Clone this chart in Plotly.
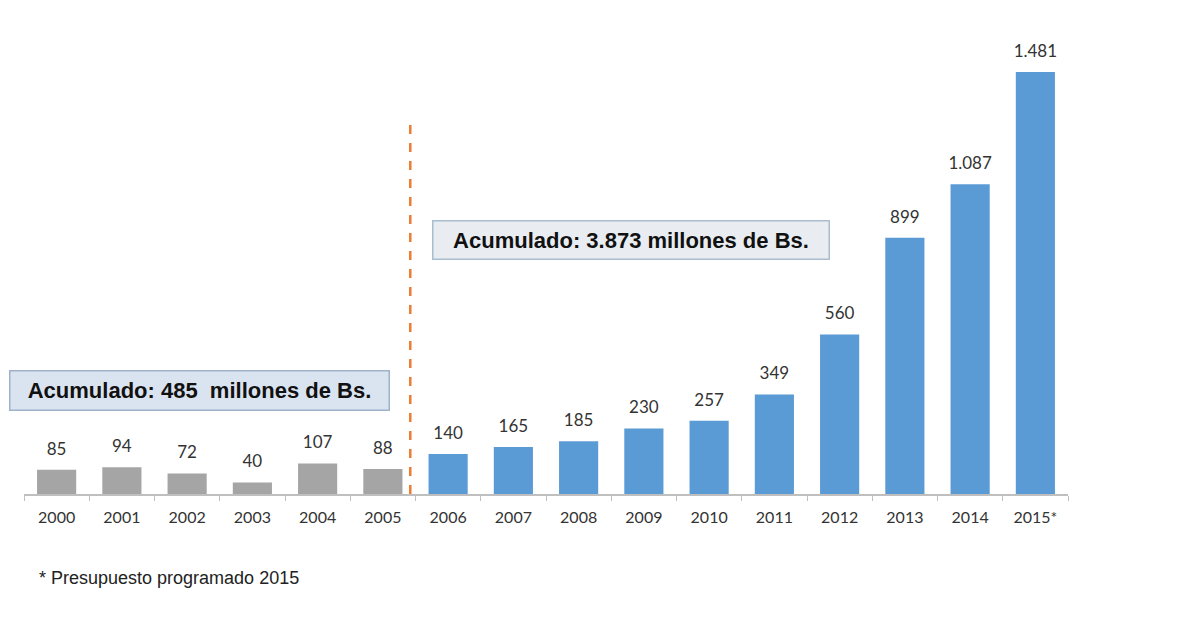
import plotly.graph_objects as go

years = ["2000", "2001", "2002", "2003", "2004", "2005", "2006", "2007",
         "2008", "2009", "2010", "2011", "2012", "2013", "2014", "2015*"]
values = [85, 94, 72, 40, 107, 88, 140, 165, 185, 230, 257, 349, 560, 899, 1087, 1481]
colors = ["#a5a5a5"] * 6 + ["#5b9bd5"] * 10
labels = [f"{v:,}".replace(",", ".") for v in values]

note_left = "Acumulado: 485  millones de Bs."
note_right = "Acumulado: 3.873 millones de Bs."
footnote = "* Presupuesto programado 2015"

# page offset of the plot within the browser window
OFF = 8
L, T, PW, PH = 24, 38, 1044, 456

fig = go.Figure()
fig.add_trace(go.Bar(
    x=years, y=values, marker=dict(color=colors, line=dict(width=0)),
    width=0.6, hoverinfo="x+y",
))
fig.add_trace(go.Scatter(
    x=years, y=values, mode="markers+text", text=labels, textposition="top center",
    marker=dict(size=16, opacity=0), cliponaxis=False, hoverinfo="skip",
    textfont=dict(family="Lato, Open Sans, sans-serif", size=17, color="#333333"),
))

def px(x):
    return (x - L) / PW

def py(y):
    return (T + PH - y) / PH

fig.update_layout(
    width=1199, height=624,
    margin=dict(l=L - OFF, r=1199 - L - PW + OFF, t=T - OFF, b=624 - T - PH + OFF),
    paper_bgcolor="white", plot_bgcolor="white",
    showlegend=False,
    xaxis=dict(type="category", range=[-0.5, len(years) - 0.5],
               showline=True, linecolor="#bfbfbf", linewidth=1.5,
               ticks="outside", tickson="boundaries", ticklen=5, tickcolor="#bfbfbf",
               showgrid=False, ticklabelstandoff=8,
               tickfont=dict(family="Lato, Open Sans, sans-serif", size=16, color="#333333")),
    yaxis=dict(range=[0, 1600], visible=False, showgrid=False, zeroline=False),
    shapes=[dict(type="line", xref="x", yref="y", x0=5.42, x1=5.42, y0=0, y1=1295,
                 line=dict(color="#ed7d31", width=2.5, dash="dash"))],
    annotations=[
        dict(text="<b>" + note_left + "</b>", xref="paper", yref="paper",
             x=px(199), y=py(390), xanchor="center", yanchor="middle",
             showarrow=False, font=dict(family="Liberation Sans, Arial", size=22, color="#111111"),
             bgcolor="#dae4f0", bordercolor="#9eb3c9", borderwidth=1.5, width=376, height=36),
        dict(text="<b>" + note_right + "</b>", xref="paper", yref="paper",
             x=px(631), y=py(239.5), xanchor="center", yanchor="middle",
             showarrow=False, font=dict(family="Liberation Sans, Arial", size=22, color="#111111"),
             bgcolor="#e9edf2", bordercolor="#a9bcd0", borderwidth=1.5, width=393, height=35),
        dict(text=footnote, xref="paper", yref="paper",
             x=px(37), y=py(578), xanchor="left", yanchor="middle",
             showarrow=False, font=dict(family="Liberation Sans, Arial", size=18, color="#222222")),
    ],
)

fig.write_html("out.html")
